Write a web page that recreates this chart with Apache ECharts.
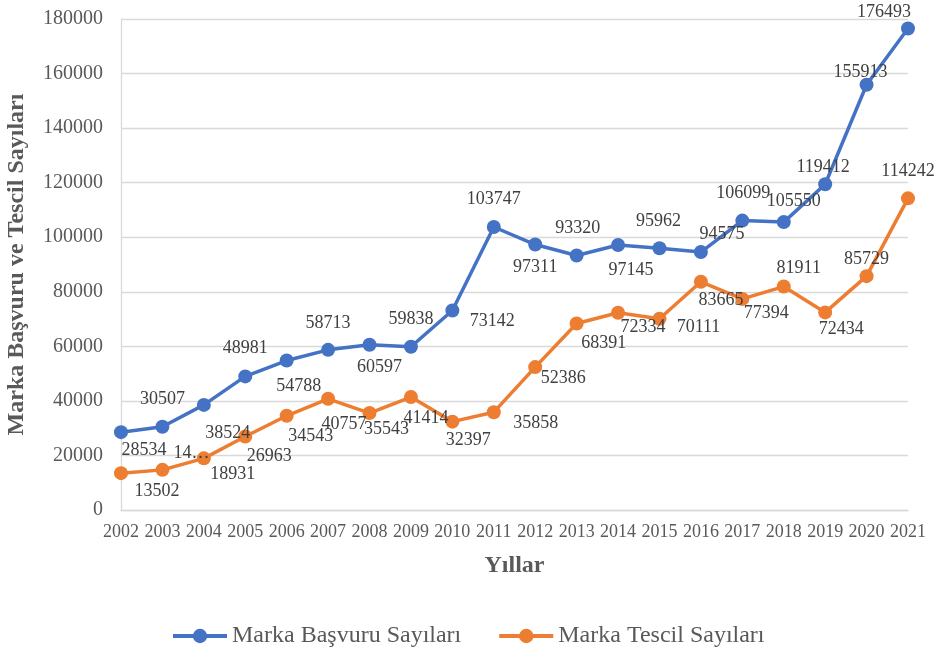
<!DOCTYPE html>
<html>
<head>
<meta charset="utf-8">
<script src="https://cdn.jsdelivr.net/npm/echarts@6/dist/echarts.min.js"></script>
<style>
  html, body { margin: 0; padding: 0; background: #fff; }
  #chart { width: 939px; height: 649px; }
</style>
</head>
<body>
<div id="chart"></div>
<script>
const years = ['2002', '2003', '2004', '2005', '2006', '2007', '2008', '2009', '2010', '2011',
               '2012', '2013', '2014', '2015', '2016', '2017', '2018', '2019', '2020', '2021']

const basvuru = [28534, 30507, 38524, 48981, 54788, 58713, 60597, 59838, 73142, 103747,
                 97311, 93320, 97145, 95962, 94575, 106099, 105550, 119412, 155913, 176493]

// 2003 label is cut off in the source ("14…"), value read from the point height
const tescil = [13502, 14710, 18931, 26963, 34543, 40757, 35543, 41414, 32397, 35858,
                52386, 68391, 72334, 70111, 83665, 77394, 81911, 72434, 85729, 114242]

const tescilLabelText = { 1: '14…' }

// hand-placed data label shifts (px from the point), like the Excel original
const basvuruShift = [[23, 18], [0, -28], [24, 28], [0, -28], [12, 26], [0, -27], [10, 23], [0, -28],
  [40, 11], [0, -28], [0, 23], [1, -27], [13, 25], [-1, -27], [21, -18], [1, -27], [10, -21],
  [-2, -17], [-6, -12], [-24, -16]]
const tescilShift = [[36, 18], [29, -17], [29, 16], [24, 20], [24, 20], [16, 25], [17, 16], [15, 21],
  [16, 19], [42, 11], [28, 11], [27, 20], [25, 15], [39, 9], [20, 18], [24, 14], [15, -18],
  [16, 17], [0, -17], [0, -27]]

const FONT = "'Liberation Serif', 'Times New Roman', serif"
const BLUE = '#4472C4'
const ORANGE = '#ED7D31'

function items(values, shifts, texts = {}) {
  return values.map((v, i) => ({
    value: v,
    label: texts[i] != null
      ? { offset: shifts[i], formatter: texts[i] }
      : { offset: shifts[i] },
  }))
}

const chart = echarts.init(document.getElementById('chart'))

const seriesBase = {
  type: 'line',
  symbol: 'circle',
  symbolSize: 14,
  lineStyle: { width: 3.5 },
  label: {
    show: true,
    position: 'inside',
    fontFamily: FONT,
    fontSize: 18,
    color: '#404040',
  },
  emphasis: { disabled: true },
}

chart.setOption({
  backgroundColor: '#fff',
  animation: false,
  textStyle: { fontFamily: FONT },
  grid: { left: 121, right: 31, top: 19, bottom: 139, outerBoundsMode: 'none', containLabel: false },
  legend: {
    left: 166,
    top: 619,
    itemWidth: 54,
    itemHeight: 18,
    itemGap: 36,
    lineStyle: { width: 4 },
    textStyle: { fontFamily: FONT, fontSize: 24, color: '#595959' },
  },
  xAxis: {
    type: 'category',
    data: years,
    boundaryGap: false,
    name: 'Yıllar',
    nameLocation: 'middle',
    nameGap: 44,
    nameTextStyle: { fontFamily: FONT, fontSize: 24, fontWeight: 'bold', color: '#595959' },
    axisLine: { lineStyle: { color: '#d9d9d9', width: 1.3 } },
    axisTick: { show: false },
    axisLabel: { interval: 0, margin: 13, fontFamily: FONT, fontSize: 18, color: '#595959' },
  },
  yAxis: {
    type: 'value',
    min: 0,
    max: 180000,
    interval: 20000,
    name: 'Marka Başvuru ve Tescil Sayıları',
    nameLocation: 'middle',
    nameGap: 92,
    nameTextStyle: { fontFamily: FONT, fontSize: 24, fontWeight: 'bold', color: '#595959' },
    axisLine: { show: true, lineStyle: { color: '#d9d9d9', width: 1.3 } },
    axisTick: { show: false },
    axisLabel: { margin: 18, fontFamily: FONT, fontSize: 20, color: '#595959', formatter: v => String(v) },
    splitLine: { lineStyle: { color: '#d9d9d9', width: 1.3 } },
  },
  series: [
    {
      ...seriesBase,
      name: 'Marka Başvuru Sayıları',
      color: BLUE,
      data: items(basvuru, basvuruShift),
    },
    {
      ...seriesBase,
      name: 'Marka Tescil Sayıları',
      color: ORANGE,
      data: items(tescil, tescilShift, tescilLabelText),
    },
  ],
})
</script>
</body>
</html>
